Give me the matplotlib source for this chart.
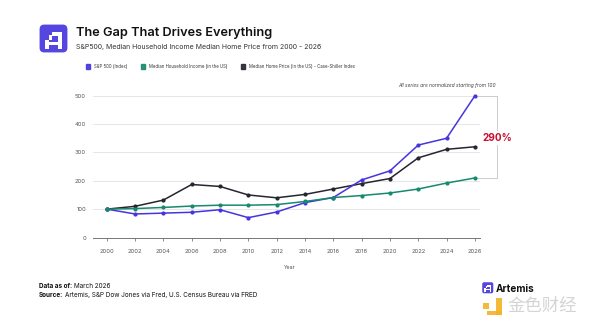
import matplotlib
matplotlib.use("Agg")
import matplotlib.pyplot as plt
from matplotlib.patches import FancyBboxPatch, Rectangle, Patch

# ---- data (normalized, 2000 = 100) ----
years = [2000, 2002, 2004, 2006, 2008, 2010, 2012, 2014, 2016, 2018, 2020, 2022, 2024, 2026]
sp500 = [100, 83, 86, 89, 98, 70, 90, 123, 141, 203, 235, 326, 350, 500]
income = [100, 102, 106, 111, 114, 114, 116, 127, 141, 148, 157, 171, 192, 210]
home = [100, 110, 132, 187, 180, 150, 140, 152, 171, 190, 208, 281, 311, 320]
series_names = ["S&P 500 (Index)", "Median Household Income (in the US)",
                "Median Home Price (in the US) - Case-Shiller Index"]
y_ticks = [0, 100, 200, 300, 400, 500]

C_SP = "#4634de"
C_INC = "#168a6c"
C_HOME = "#27252f"
GRAY = "#555555"

FONT = ["Inter", "DejaVu Sans"]
plt.rcParams["font.family"] = FONT

fig = plt.figure(figsize=(6, 3.3), dpi=100)
W, H = 600, 330

def fx(px):
    return px / W

def fy(py):
    return 1 - py / H

# ---- plot area ----
ax = fig.add_axes([fx(93), fy(237.5), fx(480) - fx(93), (237.5 - 92.9) / H])
ax.set_xlim(1999.03, 2026.36)
ax.set_ylim(0, 510)

for vals, col in [(home, C_HOME), (sp500, C_SP), (income, C_INC)]:
    ax.plot(years, vals, color=col, lw=1.1, marker="o", ms=2.0, zorder=3)

ax.set_xticks(years)
ax.set_xticklabels([str(y) for y in years], fontsize=4.2, color=GRAY)
ax.set_yticks(y_ticks)
ax.set_yticklabels([str(v) for v in y_ticks], fontsize=4.2, color=GRAY)
ax.tick_params(axis="y", length=0, pad=5)
ax.tick_params(axis="x", length=2.5, width=0.6, color="#777777", pad=6)
for s in ["top", "right", "left"]:
    ax.spines[s].set_visible(False)
ax.spines["bottom"].set_color("#777777")
ax.spines["bottom"].set_linewidth(0.7)
ax.grid(axis="y", color="#e6e6e6", lw=0.7)
ax.set_axisbelow(True)
ax.set_xlabel("Year", fontsize=3.8, color=GRAY, labelpad=8, x=0.509)

# gap bracket between S&P 500 and household income in 2026
xb = 2027.56
ax.plot([years[-1], xb, xb, years[-1]], [sp500[-1], sp500[-1], income[-1], income[-1]],
        color="#cccccc", lw=0.7, clip_on=False, zorder=2)
gap = sp500[-1] - income[-1]
ax.text(xb, 352, f"{gap:.0f}%", color="#c8102e", fontsize=7.2, fontweight="bold",
        ha="center", va="center", clip_on=False,
        bbox=dict(facecolor="white", edgecolor="none", pad=1.5))

ax.text(fx(496), fy(85), "All series are normalized starting from 100", transform=fig.transFigure,
        fontsize=3.5, style="italic", color="#444444", ha="right", va="center")

# legend
handles = [Patch(facecolor=c, edgecolor=c, alpha=0.9) for c in (C_SP, C_INC, C_HOME)]
fig.legend(handles, series_names, loc="center left", bbox_to_anchor=(fx(82), fy(66.5)),
           ncol=3, frameon=False, fontsize=3.1, handlelength=1.0, handleheight=1.6,
           handletextpad=0.8, columnspacing=3.2, labelcolor="#333333")

# ---- header ----
fig.text(fx(76), fy(33), "The Gap That Drives Everything", fontsize=9.2,
         fontweight="semibold", color="#111111", va="center", ha="left")
fig.text(fx(76), fy(47.5), "S&P500, Median Household Income Median Home Price from 2000 - 2026",
         fontsize=5.0, color="#333333", va="center", ha="left")

def artemis_logo(x0, y0, size):
    lax = fig.add_axes([fx(x0), fy(y0 + size), size / W, size / H])
    lax.set_xlim(0, 10)
    lax.set_ylim(0, 10)
    lax.axis("off")
    lax.add_patch(FancyBboxPatch((0.2, 0.2), 9.6, 9.6, boxstyle="round,pad=0,rounding_size=1.6",
                                 facecolor="#5546e0", edgecolor="none"))
    # pixel "A"
    for (x, y, w, h) in [(4.4, 6.0, 3.5, 1.2),   # top bar
                         (6.6, 1.4, 1.3, 5.8),   # right leg
                         (2.1, 1.4, 1.3, 3.2),   # left leg
                         (3.3, 4.5, 1.2, 1.6),   # shoulder step
                         (2.1, 2.9, 5.8, 0.9)]:  # crossbar
        lax.add_patch(Rectangle((x, y), w, h, facecolor="white", edgecolor="none"))

artemis_logo(39, 24, 29)

# ---- footer ----
renderer = fig.canvas.get_renderer()

def label_line(y, bold, rest, size=4.6):
    t = fig.text(fx(39), fy(y), bold, fontsize=size, fontweight="bold", color="#111111",
                 va="center", ha="left")
    bb = t.get_window_extent(renderer=renderer)
    fig.text(bb.x1 / W + 1.5 / W, fy(y), rest, fontsize=size, color="#111111",
             va="center", ha="left")

label_line(285.5, "Data as of:", "March 2026")
label_line(295, "Source:", "Artemis, S&P Dow Jones via Fred, U.S. Census Bureau via FRED")

artemis_logo(482, 282, 11.5)
fig.text(fx(496), fy(288.5), "Artemis", fontsize=7.2, fontweight="bold", color="#111111",
         va="center", ha="left")

# site watermark
for (x, y, w, h) in [(483, 303, 6, 6), (487, 310.5, 15, 4.5), (496, 298, 6, 17)]:
    fig.patches.append(Rectangle((fx(x), fy(y + h)), w / W, h / H, transform=fig.transFigure,
                                 facecolor="#f4b223", edgecolor="none", alpha=0.9))
fig.text(fx(507), fy(306), "金色财经", fontsize=12.5, color="#d4d4d4",
         family=["Noto Sans CJK SC", "DejaVu Sans"], va="center", ha="left")

fig.savefig("out.png", dpi=100, facecolor="white")
